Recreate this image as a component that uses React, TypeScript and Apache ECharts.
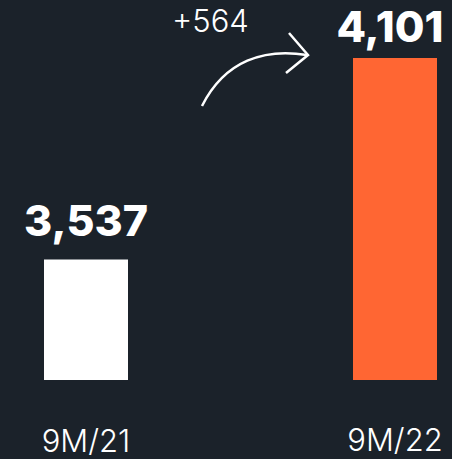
import React, { useEffect, useRef } from "react";
import * as echarts from "echarts";

const categories = ["9M/21", "9M/22"];
const values = [3537, 4101];
const changeLabel = "+564";

const BG = "#1b222a";
const barColors = ["#ffffff", "#ff6633"];

export default function App() {
  const ref = useRef<HTMLDivElement>(null);
  useEffect(() => {
    const chart = echarts.init(ref.current!, null, { renderer: "svg" });
    chart.setOption({
      animation: false,
      backgroundColor: BG,
      grid: { left: 86, right: 57, top: 58, bottom: 79 },
      xAxis: {
        type: "category",
        data: categories,
        boundaryGap: false,
        axisLine: { show: false },
        axisTick: { show: false },
        axisLabel: {
          margin: 43,
          formatter: (v: string, i: number) => (i === 0 ? `{a|${v}}` : `{b|${v}}`),
          rich: {
            a: { color: "#ffffff", fontFamily: "Inter", fontWeight: 300, fontSize: 31, lineHeight: 32, padding: [2, 0, 0, 0] },
            b: { color: "#ffffff", fontFamily: "Inter", fontWeight: 300, fontSize: 31, lineHeight: 32 },
          },
        },
      },
      yAxis: {
        type: "value",
        min: 3200,
        max: 4101,
        show: false,
        splitLine: { show: false },
      },
      series: [
        {
          type: "bar",
          barWidth: 84,
          data: values.map((v, i) => ({
            value: v,
            itemStyle: { color: barColors[i] },
            label: { distance: i === 0 ? 18 : 11, offset: i === 0 ? [0, 0] : [-5, 0] },
          })),
          label: {
            show: true,
            position: "top",
            color: "#ffffff",
            fontFamily: "Inter",
            fontWeight: 800,
            fontSize: 43,
            formatter: (p: any) => p.value.toLocaleString("en-US"),
          },
        },
      ],
      graphic: [
        {
          type: "text",
          left: 172,
          top: 5,
          style: {
            text: changeLabel,
            fill: "#ffffff",
            font: "300 31px Inter",
          },
        },
        {
          type: "bezierCurve",
          shape: { x1: 202, y1: 106, cpx1: 225, cpy1: 60, cpx2: 265, cpy2: 48, x2: 307, y2: 55 },
          style: { stroke: "#ffffff", lineWidth: 2.5, fill: null },
        },
        {
          type: "polyline",
          shape: { points: [[289, 33], [308, 55], [286, 73]] },
          style: { stroke: "#ffffff", lineWidth: 2.5, fill: null },
        },
      ],
    });
    return () => chart.dispose();
  }, []);
  return <div ref={ref} style={{ width: 452, height: 459, position: "fixed", left: 0, top: 0 }} />;
}
